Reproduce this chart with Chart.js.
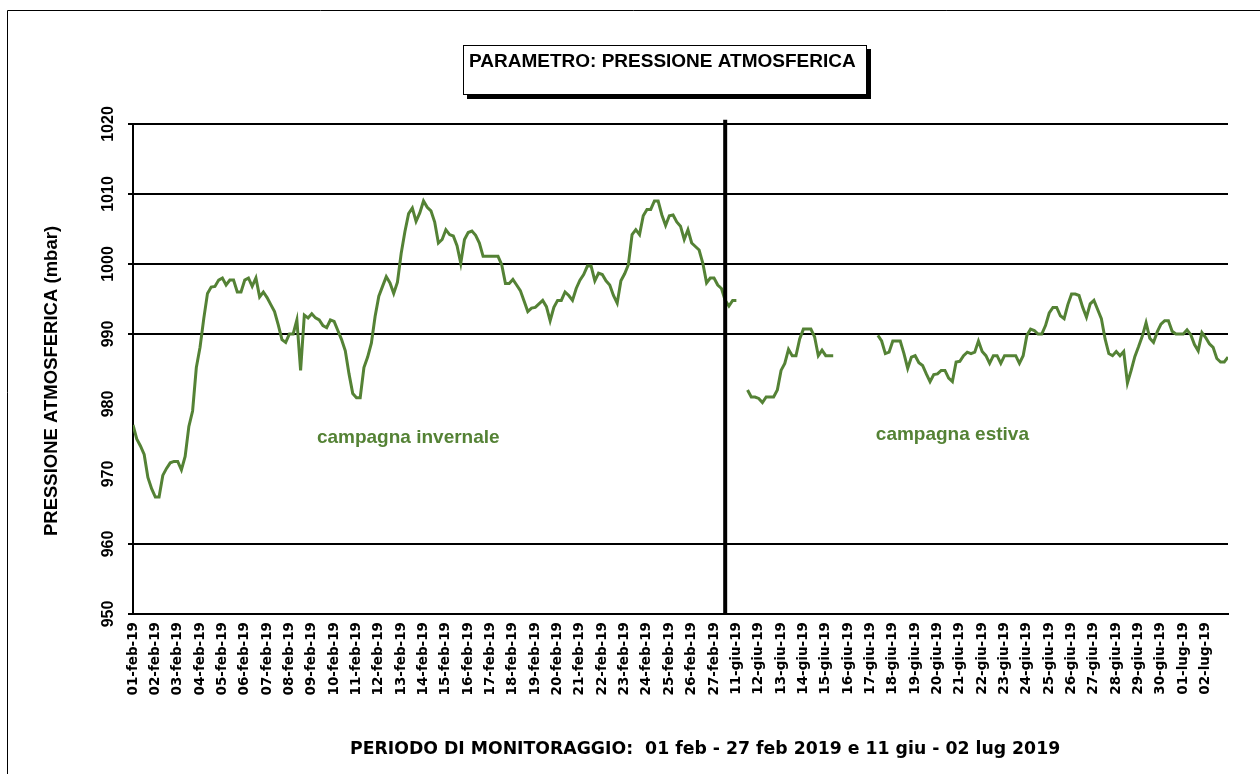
<!DOCTYPE html>
<html>
<head>
<meta charset="utf-8">
<script src="https://cdn.jsdelivr.net/npm/chart.js@4"></script>
<style>
  html, body { margin: 0; padding: 0; background: #fff; }
</style>
</head>
<body>
<canvas id="grafico" width="1260" height="774"></canvas>
<script>
/* etichette dei giorni (asse x) */
const giorni = [
  '01-feb-19', '02-feb-19', '03-feb-19', '04-feb-19', '05-feb-19', '06-feb-19', '07-feb-19',
  '08-feb-19', '09-feb-19', '10-feb-19', '11-feb-19', '12-feb-19', '13-feb-19', '14-feb-19',
  '15-feb-19', '16-feb-19', '17-feb-19', '18-feb-19', '19-feb-19', '20-feb-19', '21-feb-19',
  '22-feb-19', '23-feb-19', '24-feb-19', '25-feb-19', '26-feb-19', '27-feb-19',
  '11-giu-19', '12-giu-19', '13-giu-19', '14-giu-19', '15-giu-19', '16-giu-19', '17-giu-19',
  '18-giu-19', '19-giu-19', '20-giu-19', '21-giu-19', '22-giu-19', '23-giu-19', '24-giu-19',
  '25-giu-19', '26-giu-19', '27-giu-19', '28-giu-19', '29-giu-19', '30-giu-19', '01-lug-19',
  '02-lug-19'
]

/* pressione (mbar), un valore ogni 4 ore */
const invernale = [
  977, 975, 974, 972.8, 969.5, 967.9,            // 01-feb
  966.7, 966.7, 969.8, 970.8, 971.6, 971.8,      // 02-feb
  971.8, 970.6, 972.5, 976.8, 979, 985.2,        // 03-feb
  988.1, 992.2, 995.8, 996.7, 996.8, 997.7,      // 04-feb
  998, 997, 997.7, 997.7, 996, 996,              // 05-feb
  997.7, 998, 996.8, 998, 995.3, 996,            // 06-feb
  995.2, 994.2, 993.2, 991.3, 989.2, 988.8,      // 07-feb
  990, 990, 992, 984.8, 992.7, 992.3,            // 08-feb
  992.9, 992.3, 992, 991.2, 990.9, 992,          // 09-feb
  991.8, 990.5, 989.2, 987.6, 984.3, 981.5,      // 10-feb
  980.9, 980.9, 985.2, 986.7, 988.7, 992.5,      // 11-feb
  995.4, 996.8, 998.2, 997.3, 995.8, 997.4,      // 12-feb
  1001.5, 1004.6, 1007.2, 1008, 1006.1, 1007.3,  // 13-feb
  1009, 1008.1, 1007.6, 1006, 1003, 1003.5,      // 14-feb
  1004.9, 1004.2, 1004, 1002.6, 1000.1, 1003.5,  // 15-feb
  1004.5, 1004.7, 1004.1, 1003, 1001.1, 1001.1,  // 16-feb
  1001.1, 1001.1, 1001.1, 999.9, 997.2, 997.2,   // 17-feb
  997.8, 997, 996.2, 994.7, 993.2, 993.7,        // 18-feb
  993.8, 994.3, 994.8, 993.9, 991.9, 993.8,      // 19-feb
  994.8, 994.8, 996, 995.5, 994.8, 996.5,        // 20-feb
  997.7, 998.5, 999.7, 999.7, 997.6, 998.7,      // 21-feb
  998.5, 997.6, 997, 995.5, 994.4, 997.6,        // 22-feb
  998.6, 999.9, 1004.2, 1004.9, 1004.2, 1006.9,  // 23-feb
  1007.8, 1007.8, 1009, 1009, 1007, 1005.5,      // 24-feb
  1006.9, 1007, 1006, 1005.4, 1003.5, 1004.9,    // 25-feb
  1003, 1002.5, 1002, 1000.1, 997.3, 998,        // 26-feb
  998, 997, 996.5, 994.8, 994, 994.8,            // 27-feb
  994.8
]

const estiva = [
  null, null, null, 982, 981, 981,               // 11-giu
  980.8, 980.2, 981, 981, 981, 982,              // 12-giu
  984.8, 985.8, 987.8, 986.9, 986.9, 989.3,      // 13-giu
  990.7, 990.7, 990.7, 989.6, 986.9, 987.7,      // 14-giu
  986.9, 986.9, 986.9, null, null, null,         // 15-giu
  null, null, null, null, null, null,            // 16-giu
  null, null, 989.8, 989, 987.2, 987.4,          // 17-giu
  989, 989, 989, 987.2, 985.1, 986.7,            // 18-giu
  986.9, 985.9, 985.5, 984.3, 983.2, 984.2,      // 19-giu
  984.3, 984.8, 984.8, 983.7, 983.2, 986,        // 20-giu
  986.1, 986.9, 987.4, 987.2, 987.4, 989,        // 21-giu
  987.5, 986.9, 985.8, 986.9, 986.9, 985.8,      // 22-giu
  986.9, 986.9, 986.9, 986.9, 985.8, 986.9,      // 23-giu
  989.8, 990.7, 990.5, 990, 990, 991.2,          // 24-giu
  993, 993.8, 993.8, 992.6, 992.2, 994.2,        // 25-giu
  995.7, 995.7, 995.5, 993.8, 992.4, 994.3,      // 26-giu
  994.8, 993.5, 992.2, 989.3, 987.2, 986.9,      // 27-giu
  987.5, 986.9, 987.5, 983, 984.8, 986.8,        // 28-giu
  988.2, 989.7, 991.6, 989.4, 988.8, 990.3,      // 29-giu
  991.4, 991.9, 991.9, 990.4, 990, 990,          // 30-giu
  990, 990.6, 989.9, 988.5, 987.6, 990.2,        // 01-lug
  989.5, 988.6, 988.1, 986.5, 986, 986,          // 02-lug
  986.7
]

const PASSO = 1 / 6          // 4 ore in giorni
const INIZIO_ESTIVA = 27     // indice di 11-giu-19
const separatoreX = [26.5, 26.5]
const separatoreY = [950, 1020.6]

const etichette = ['campagna invernale', 'campagna estiva']
const etichetteX = [8.23, 33.24]
const etichetteY = [974.4, 974.8]

const titolo = 'PARAMETRO: PRESSIONE ATMOSFERICA'
const titoloX = 'PERIODO DI MONITORAGGIO:  01 feb - 27 feb 2019 e 11 giu - 02 lug 2019'
const titoloY = 'PRESSIONE ATMOSFERICA (mbar)'

const VERDE = '#548235'
const ARIAL = '"Liberation Sans", Arial, sans-serif'

const puntiInv = invernale.map((v, i) => ({ x: i * PASSO, y: v }))
const puntiEst = estiva.map((v, i) => ({ x: INIZIO_ESTIVA + i * PASSO, y: v }))
const puntiSep = separatoreX.map((v, i) => ({ x: v, y: separatoreY[i] }))

// cornice, riquadro del titolo, titoli degli assi e scritte
const decorazioni = {
  id: 'decorazioni',
  beforeDraw(chart) {
    const ctx = chart.ctx
    ctx.save()
    ctx.fillStyle = '#fff'
    ctx.fillRect(0, 0, chart.width, chart.height)
    ctx.strokeStyle = '#000'
    ctx.lineWidth = 1
    ctx.beginPath()
    ctx.moveTo(7.5, chart.height)
    ctx.lineTo(7.5, 10.5)
    ctx.lineTo(chart.width, 10.5)
    ctx.stroke()
    // riquadro con ombra
    ctx.fillStyle = '#000'
    ctx.fillRect(467, 49, 404, 50)
    ctx.fillStyle = '#fff'
    ctx.fillRect(463, 45, 404, 50)
    ctx.strokeRect(463.5, 45.5, 403, 49)
    ctx.restore()
  },
  afterDraw(chart) {
    const ctx = chart.ctx
    const sx = chart.scales.x
    const sy = chart.scales.y
    ctx.save()
    ctx.fillStyle = '#000'
    ctx.textBaseline = 'alphabetic'
    ctx.textAlign = 'left'
    ctx.font = 'bold 19px ' + ARIAL
    ctx.fillText(titolo, 469, 67)

    ctx.font = 'bold 17.3px "DejaVu Sans", sans-serif'
    ctx.fillText(titoloX, 350, 754)

    ctx.save()
    ctx.translate(57, 381)
    ctx.rotate(-Math.PI / 2)
    ctx.textAlign = 'center'
    ctx.font = 'bold 18.5px ' + ARIAL
    ctx.fillText(titoloY, 0, 0)
    ctx.restore()

    ctx.fillStyle = VERDE
    ctx.font = 'bold 19px ' + ARIAL
    etichette.forEach((t, i) => {
      ctx.fillText(t, sx.getPixelForValue(etichetteX[i]), sy.getPixelForValue(etichetteY[i]))
    })
    ctx.restore()
  }
}

new Chart(document.getElementById('grafico'), {
  type: 'line',
  data: {
    datasets: [
      {
        data: puntiSep,
        borderColor: '#000',
        borderWidth: 4,
        pointRadius: 0,
        clip: false,
        order: 0
      },
      {
        data: puntiInv,
        borderColor: VERDE,
        borderWidth: 3,
        pointRadius: 0,
        spanGaps: false,
        order: 1
      },
      {
        data: puntiEst,
        borderColor: VERDE,
        borderWidth: 3,
        pointRadius: 0,
        spanGaps: false,
        order: 1
      }
    ]
  },
  options: {
    responsive: false,
    animation: false,
    layout: { padding: { top: 124, right: 32, left: 0, bottom: 0 } },
    plugins: {
      legend: { display: false },
      tooltip: { enabled: false },
      title: { display: false }
    },
    scales: {
      x: {
        type: 'linear',
        min: 0,
        max: giorni.length,
        afterFit: s => { s.height = 160 },
        grid: { display: false, drawTicks: false },
        border: { color: '#000', width: 2 },
        ticks: {
          stepSize: 1,
          autoSkip: false,
          minRotation: 90,
          maxRotation: 90,
          padding: 8,
          color: '#000',
          font: { family: '"DejaVu Sans", sans-serif', weight: 'bold', size: 13.5 },
          callback: v => giorni[v] || ''
        }
      },
      y: {
        min: 950,
        max: 1020,
        afterFit: s => { s.width = 133 },
        grid: {
          color: c => (c.tick && (c.tick.value === 970 || c.tick.value === 980)) ? 'rgba(0,0,0,0)' : '#000',
          lineWidth: 2,
          tickLength: 5
        },
        border: { color: '#000', width: 2 },
        ticks: {
          stepSize: 10,
          minRotation: 90,
          maxRotation: 90,
          crossAlign: 'center',
          padding: 2,
          color: '#000',
          font: { family: ARIAL, weight: 'bold', size: 16 },
          callback: v => String(v)
        }
      }
    }
  },
  plugins: [decorazioni]
})
</script>
</body>
</html>
